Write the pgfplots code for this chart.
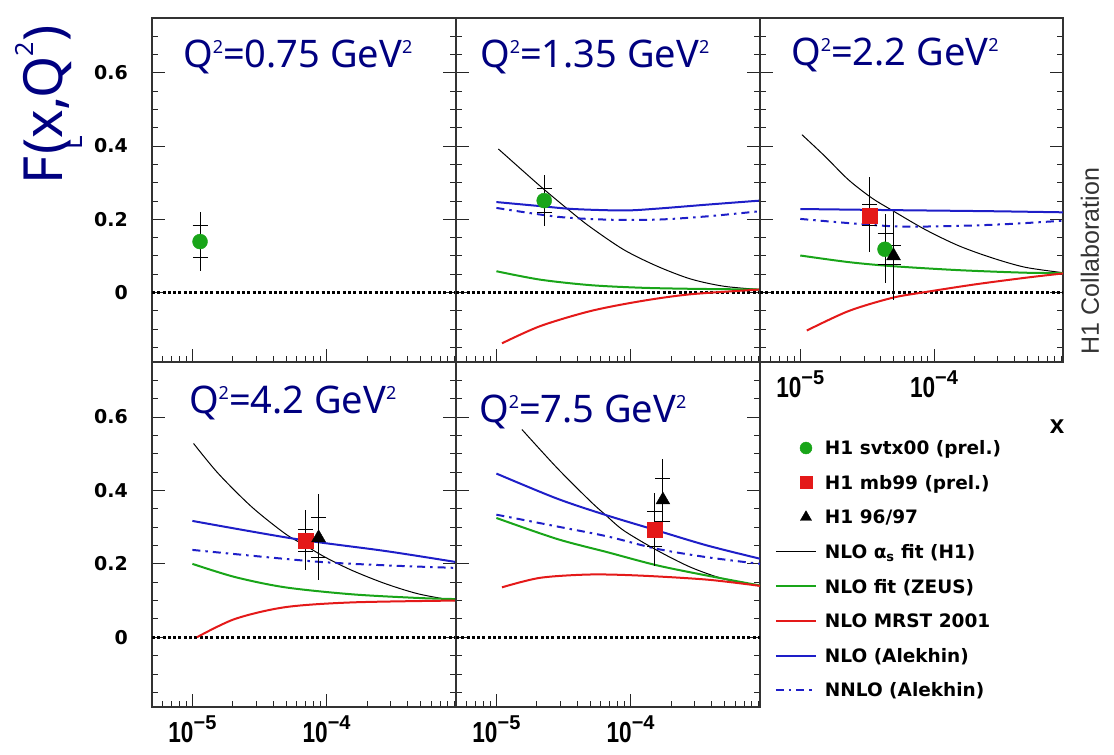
\documentclass[border=0pt]{standalone}
\usepackage{pgfplots}
\pgfplotsset{compat=1.18}
\usepackage{fontspec}
\usepackage{graphicx}
\setmainfont{Liberation Sans}
\newfontfamily\djv{DejaVu Sans}
\newfontfamily\noto{Noto Sans}
\definecolor{hgreen}{RGB}{25,165,25}
\definecolor{hred}{RGB}{228,25,25}
\definecolor{hblue}{RGB}{30,30,200}
\definecolor{navy}{RGB}{0,0,128}
\newcommand{\xlab}[1]{\scalebox{0.78}[1]{\fontsize{29}{29}\selectfont\bfseries 10}\raisebox{13pt}{\fontsize{20}{20}\selectfont\bfseries −#1}}
\newcommand{\sq}{\raisebox{14pt}{\fontsize{18}{18}\selectfont 2}}
\tikzset{httl/.style={anchor=base west, fill=white, inner sep=1pt, text=navy, font=\noto\fontsize{38}{40}\selectfont}}
\pgfplotsset{
 hpanel/.style={
  scale only axis, width=304pt, height=344pt, anchor=north west,
  xmin=5e-6, xmax=9.2e-4, ymin=-0.19, ymax=0.75,
  axis line style={line width=1.2pt, black!80},
  tick style={line width=0.9pt, black!85},
  tick align=inside,
  major tick length=13pt, minor tick length=6pt,
  xtick={1e-5,1e-4},
  minor xtick={6e-6,7e-6,8e-6,9e-6,2e-5,3e-5,4e-5,5e-5,6e-5,7e-5,8e-5,9e-5,2e-4,3e-4,4e-4,5e-4,6e-4,7e-4,8e-4,9e-4},
  xtick pos=left, ytick pos=both,
  ytick={0,0.2,0.4,0.6},
  minor ytick={-0.15,-0.1,-0.05,0.05,0.1,0.15,0.25,0.3,0.35,0.45,0.5,0.55,0.65,0.7},
  xticklabels={}, yticklabels={},
  yticklabel style={anchor=east, inner sep=0pt, xshift=-24pt, font=\djv\bfseries\fontsize{19}{19}\selectfont},
  xticklabel style={anchor=north, inner sep=0pt, yshift=-9pt},
 },
 hylabs/.style={yticklabels={0,0.2,0.4,0.6}},
 hxlabs/.style={xticklabels={\xlab{5},\xlab{4}}},
 lineleg/.style={legend image code/.code={\draw[##1] (0pt,2pt) -- (40pt,2pt);}},
 markleg/.style={legend image code/.code={\draw[##1] plot coordinates {(30pt,2pt)};}},
 cblk/.style={black, line width=1pt, smooth, no markers, lineleg},
 cgrn/.style={hgreen, line width=2pt, smooth, no markers, lineleg},
 crd/.style={hred, line width=2pt, smooth, no markers, lineleg},
 cbl/.style={hblue, line width=2pt, smooth, no markers, lineleg},
 cbld/.style={hblue, line width=2pt, smooth, no markers, dash pattern=on 8pt off 5pt on 2.5pt off 5pt, lineleg},
 czl/.style={forget plot, draw=black, line width=2.6pt, dash pattern=on 3pt off 2.3pt},
 etot/.style={forget plot, only marks, mark=none,
   error bars/y dir=both, error bars/y explicit, error bars/error mark=none,
   error bars/error bar style={black, line width=1pt}},
 estat/.style={forget plot, only marks, mark size=7.5pt,
   error bars/y dir=both, error bars/y explicit, error bars/error mark=-,
   error bars/error mark options={rotate=90, mark size=7.5pt, black, line width=1pt},
   error bars/error bar style={black, line width=1pt}},
 mcirc/.style={estat, hgreen, mark=*},
 msq/.style={estat, hred, mark=square*},
 mtri/.style={estat, black, mark=triangle*, mark size=8pt},
}
\begin{document}
\begin{tikzpicture}
\useasboundingbox (0,0) rectangle (1114pt,755pt);
% Panel 1
\begin{semilogxaxis}[hpanel, at={(152pt,737pt)}, hylabs]
\addplot[czl] coordinates {(5e-6,0) (9.2e-4,0)};
\addplot[etot] coordinates {(1.14e-5,0.139) +- (0,0.08)};
\addplot[mcirc] coordinates {(1.14e-5,0.139) +- (0,0.043)};
\node[httl] at (rel axis cs:0.0987,0.8547) {Q\sq=0.75 GeV\sq};
\end{semilogxaxis}
% Panel 2
\begin{semilogxaxis}[hpanel, at={(456pt,737pt)}]
\addplot[czl] coordinates {(5e-6,0) (9.2e-4,0)};
\addplot[cblk] coordinates {(1.035e-5,0.392) (1.59e-5,0.331) (2.24e-5,0.283) (3.55e-5,0.222) (5e-5,0.179) (8.87e-5,0.117) (1.57e-4,0.072) (2.79e-4,0.037) (4.94e-4,0.017) (9.2e-4,0.008)};
\addplot[cgrn] coordinates {(1e-5,0.058) (2.12e-5,0.035) (5e-5,0.020) (1.18e-4,0.013) (2.79e-4,0.010) (9.2e-4,0.008)};
\addplot[crd] coordinates {(1.1e-5,-0.139) (2.12e-5,-0.092) (5e-5,-0.051) (1.18e-4,-0.024) (2.79e-4,-0.005) (9.2e-4,0.008)};
\addplot[cbl] coordinates {(1e-5,0.247) (2.12e-5,0.236) (3.75e-5,0.228) (8.87e-5,0.224) (1.57e-4,0.229) (3.72e-4,0.240) (9.2e-4,0.251)};
\addplot[cbld] coordinates {(1e-5,0.231) (2.82e-5,0.207) (6.67e-5,0.199) (1.57e-4,0.199) (3.72e-4,0.208) (9.2e-4,0.222)};
\addplot[etot] coordinates {(2.27e-5,0.251) +- (0,0.07)};
\addplot[mcirc] coordinates {(2.27e-5,0.251) +- (0,0.033)};
\node[httl] at (rel axis cs:0.0757,0.8547) {Q\sq=1.35 GeV\sq};
\end{semilogxaxis}
% Panel 3 with legend
\begin{semilogxaxis}[hpanel, at={(760pt,737pt)}, width=303pt, hxlabs,
  legend style={at={(0.0495,-0.229)}, anchor=north west, draw=none, fill=none,
    inner sep=0pt, outer sep=0pt, row sep=16.1pt, column sep=8pt,
    font=\djv\bfseries\fontsize{18.5}{19}\selectfont,
    nodes={inner sep=0pt, text height=14pt, text depth=4.5pt}},
  legend cell align=left, lineleg]
\addlegendimage{only marks, mark=*, hgreen, mark size=6pt, markleg}
\addlegendentry{H1 svtx00 (prel.)}
\addlegendimage{only marks, mark=square*, hred, mark size=6pt, markleg}
\addlegendentry{H1 mb99 (prel.)}
\addlegendimage{only marks, mark=triangle*, black, mark size=6.5pt, markleg}
\addlegendentry{H1 96/97}
\addplot[czl] coordinates {(5e-6,0) (9.2e-4,0)};
\addplot[cblk] coordinates {(1.03e-5,0.431) (1.53e-5,0.372) (2.29e-5,0.308) (3.43e-5,0.258) (4.83e-5,0.225) (8.57e-5,0.172) (1.52e-4,0.128) (2.69e-4,0.095) (4.78e-4,0.069) (9.2e-4,0.054)};
\addlegendentry{NLO α\textsubscript{s} fit (H1)}
\addplot[cgrn] coordinates {(1e-5,0.101) (2.29e-5,0.083) (4.83e-5,0.072) (1.52e-4,0.061) (4.78e-4,0.054) (9.2e-4,0.053)};
\addlegendentry{NLO fit (ZEUS)}
\addplot[crd] coordinates {(1.12e-5,-0.104) (2.29e-5,-0.051) (4.83e-5,-0.015) (8.57e-5,0.001) (2.02e-4,0.022) (4.78e-4,0.040) (9.2e-4,0.052)};
\addlegendentry{NLO MRST 2001}
\addplot[cbl] coordinates {(1e-5,0.228) (4.83e-5,0.225) (2.69e-4,0.222) (9.2e-4,0.219)};
\addlegendentry{NLO (Alekhin)}
\addplot[cbld] coordinates {(1e-5,0.201) (4.83e-5,0.181) (1.52e-4,0.182) (3.59e-4,0.187) (9.2e-4,0.196)};
\addlegendentry{NNLO (Alekhin)}
\addplot[etot] coordinates {(3.32e-5,0.211) += (0,0.105) -= (0,0.101)};
\addplot[msq] coordinates {(3.32e-5,0.211) += (0,0.029) -= (0,0.028)};
\addplot[etot] coordinates {(4.3e-5,0.118) += (0,0.096) -= (0,0.092)};
\addplot[mcirc] coordinates {(4.3e-5,0.118) += (0,0.044) -= (0,0.042)};
\addplot[etot] coordinates {(4.98e-5,0.1) += (0,0.119) -= (0,0.12)};
\addplot[mtri] coordinates {(4.98e-5,0.1) += (0,0.028) -= (0,0.024)};
\node[httl] at (rel axis cs:0.099,0.863) {Q\sq=2.2 GeV\sq};
\end{semilogxaxis}
% Panel 4
\begin{semilogxaxis}[hpanel, at={(152pt,393pt)}, height=345pt, hylabs, hxlabs]
\addplot[czl] coordinates {(5e-6,0) (9.2e-4,0)};
\addplot[cblk] coordinates {(1.02e-5,0.528) (1.56e-5,0.446) (2.77e-5,0.355) (4.92e-5,0.282) (6.94e-5,0.250) (9.77e-5,0.218) (1.55e-4,0.182) (2.74e-4,0.146) (4.85e-4,0.118) (9.2e-4,0.099)};
\addplot[cgrn] coordinates {(1e-5,0.2) (2.08e-5,0.164) (4.92e-5,0.136) (1.55e-4,0.117) (4.85e-4,0.107) (9.2e-4,0.104)};
\addplot[crd] coordinates {(1.08e-5,0.0) (2.08e-5,0.05) (4.92e-5,0.082) (1.55e-4,0.095) (9.2e-4,0.1)};
\addplot[cbl] coordinates {(1e-5,0.317) (5.83e-5,0.268) (2.74e-4,0.235) (9.2e-4,0.205)};
\addplot[cbld] coordinates {(1e-5,0.238) (7.78e-5,0.207) (2.74e-4,0.196) (9.2e-4,0.189)};
\addplot[etot] coordinates {(6.94e-5,0.264) +- (0,0.082)};
\addplot[msq] coordinates {(6.94e-5,0.264) +- (0,0.03)};
\addplot[etot] coordinates {(8.71e-5,0.271) += (0,0.12) -= (0,0.116)};
\addplot[mtri] coordinates {(8.71e-5,0.271) += (0,0.056) -= (0,0.055)};
\node[httl] at (rel axis cs:0.118,0.852) {Q\sq=4.2 GeV\sq};
\end{semilogxaxis}
% Panel 5
\begin{semilogxaxis}[hpanel, at={(456pt,393pt)}, height=345pt, hxlabs]
\addplot[czl] coordinates {(5e-6,0) (9.2e-4,0)};
\addplot[cblk] coordinates {(1.55e-5,0.566) (2.82e-5,0.462) (5e-5,0.371) (6.47e-5,0.334) (8.87e-5,0.291) (1.57e-4,0.237) (2.79e-4,0.191) (4.94e-4,0.159) (9.2e-4,0.14)};
\addplot[cgrn] coordinates {(1e-5,0.325) (2.82e-5,0.268) (6.67e-5,0.232) (1.57e-4,0.196) (3.72e-4,0.168) (9.2e-4,0.141)};
\addplot[crd] coordinates {(1.1e-5,0.136) (2.12e-5,0.162) (5e-5,0.171) (1.18e-4,0.168) (3.72e-4,0.157) (9.2e-4,0.14)};
\addplot[cbl] coordinates {(1e-5,0.446) (2.82e-5,0.378) (6.67e-5,0.332) (1.57e-4,0.291) (3.72e-4,0.250) (9.2e-4,0.214)};
\addplot[cbld] coordinates {(1e-5,0.334) (2.82e-5,0.302) (6.67e-5,0.275) (1.57e-4,0.241) (3.72e-4,0.218) (9.2e-4,0.2)};
\addplot[etot] coordinates {(1.51e-4,0.294) +- (0,0.1)};
\addplot[msq] coordinates {(1.51e-4,0.294) +- (0,0.048)};
\addplot[etot] coordinates {(1.74e-4,0.374) += (0,0.113) -= (0,0.057)};
\addplot[mtri] coordinates {(1.74e-4,0.374) +- (0,0.058)};
\node[httl] at (rel axis cs:0.072,0.826) {Q\sq=7.5 GeV\sq};
\end{semilogxaxis}
% outer labels
\node[rotate=90, anchor=base west, inner sep=0pt, text=navy, font=\noto\fontsize{54}{56}\selectfont] at (62pt,570pt) {F\rlap{\kern7pt\raisebox{-20pt}{\fontsize{26}{26}\selectfont L}}\kern2pt(x,Q\raisebox{29pt}{\fontsize{25}{25}\selectfont 2})};
\node[rotate=90, text=black!80, font=\fontsize{25}{25}\selectfont] at (1090pt,494pt) {H1 Collaboration};
\node[font=\bfseries\fontsize{26}{26}\selectfont] at (1057pt,328pt) {x};
\end{tikzpicture}
\end{document}
